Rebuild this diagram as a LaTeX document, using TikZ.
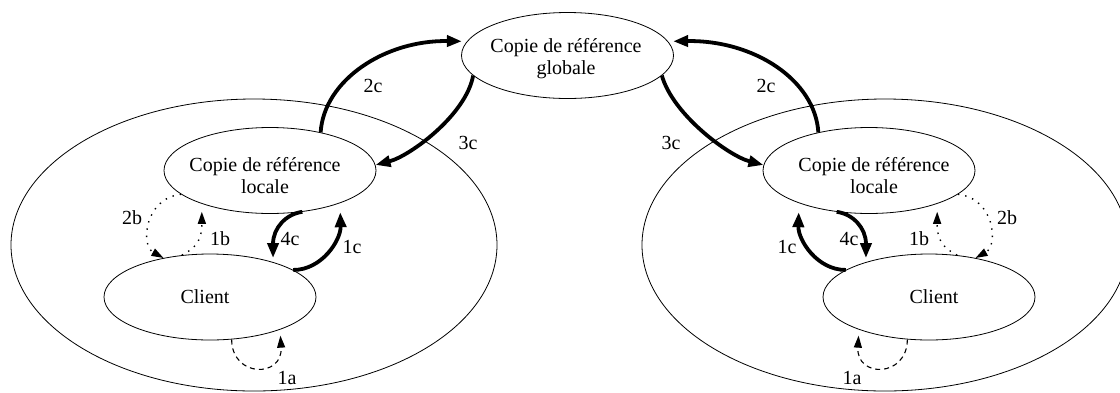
\documentclass[tikz,border=0pt]{standalone}
\usepackage{fontspec}
\setmainfont{Liberation Serif}
\usetikzlibrary{arrows.meta,shapes.geometric}
\begin{document}
\begin{tikzpicture}[x=1pt,y=-1pt,
  every node/.style={font=\fontsize{20}{22}\selectfont},
  zone/.style={draw,ellipse,line width=0.8pt,inner sep=0pt,minimum width=486pt,minimum height=292pt},
  site/.style={draw,ellipse,line width=0.8pt,inner sep=0pt,minimum width=212pt,minimum height=86pt},
  txt/.style={align=center,inner sep=0pt},
  lbl/.style={inner sep=0pt},
  bigarrow/.style={line width=3.8pt,-{Triangle[length=15pt,width=11pt]}},
  dotarrow/.style={line width=1.4pt,dash pattern=on 1.4pt off 6pt,-{Triangle[length=12pt,width=8pt]}},
  dasharrow/.style={line width=1.1pt,dash pattern=on 5pt off 4pt,-{Triangle[length=12pt,width=8pt]}},
]
\useasboundingbox (0,0) rectangle (1120,392);
\clip (0,0) rectangle (1120,392);

% sites
\node[zone] (outL) at (254,245) {};
\node[zone] (outR) at (885,245) {};

% reference copies and clients
\node[site] (G)  at (567.5,55.5) {};
\node[site] (L)  at (270,170.5) {};
\node[site] (Lr) at (869,170.5) {};
\node[site] (C)  at (210,297) {};
\node[site] (Cr) at (929,297) {};

\node[txt] (Gt)  at (566,59)  {Copie de référence\\globale};
\node[txt] (Lt)  at (265,176) {Copie de référence\\locale};
\node[txt] (Lrt) at (874,176) {Copie de référence\\locale};
\node[txt] (Ct)  at (205,297) {Client};
\node[txt] (Crt) at (934,297) {Client};

% left site
\draw[bigarrow,shorten >=5pt] (L.37) .. controls (324,80) and (385,40) .. (G.172);
\draw[bigarrow] (G.192) .. controls (466,115) and (410,156) .. (L.3);
\draw[dotarrow] (L.195) .. controls (145,198) and (140,245) .. (C.140);
\draw[dotarrow,shorten >=8pt] (C.124) .. controls (196,248) and (202,240) .. (L.206);
\draw[bigarrow,shorten >=4pt] (L.-52) .. controls (286,214) and (273,228) .. (C.29);
\draw[bigarrow,shorten >=9pt] (C.18) .. controls (322,270) and (341,240) .. (L.-25);
\draw[dasharrow,shorten >=6pt] (C.-63) .. controls (232,378) and (283,378) .. (C.-25);

\node[lbl] (l2c) at (373,86)  {2c};
\node[lbl] (l3c) at (468,143) {3c};
\node[lbl] (l2b) at (132,218) {2b};
\node[lbl] (l1b) at (220,239) {1b};
\node[lbl] (l4c) at (290,239) {4c};
\node[lbl] (l1c) at (352,247) {1c};
\node[lbl] (l1a) at (287,378) {1a};

% right site
\draw[bigarrow,shorten >=5pt] (Lr.143) .. controls (815,80) and (754,40) .. (G.8);
\draw[bigarrow] (G.-12) .. controls (673,115) and (729,156) .. (Lr.177);
\draw[dotarrow] (Lr.-15) .. controls (994,198) and (999,245) .. (Cr.40);
\draw[dotarrow,shorten >=8pt] (Cr.56) .. controls (943,248) and (937,240) .. (Lr.-26);
\draw[bigarrow,shorten >=4pt] (Lr.232) .. controls (853,214) and (866,228) .. (Cr.151);
\draw[bigarrow,shorten >=9pt] (Cr.162) .. controls (817,270) and (798,240) .. (Lr.205);
\draw[dasharrow,shorten >=6pt] (Cr.243) .. controls (907,378) and (856,378) .. (Cr.205);

\node[lbl] (r2c) at (766,86)  {2c};
\node[lbl] (r3c) at (671,143) {3c};
\node[lbl] (r2b) at (1007,218) {2b};
\node[lbl] (r1b) at (919,239) {1b};
\node[lbl] (r4c) at (849,239) {4c};
\node[lbl] (r1c) at (787,247) {1c};
\node[lbl] (r1a) at (852,378) {1a};
\end{tikzpicture}
\end{document}
